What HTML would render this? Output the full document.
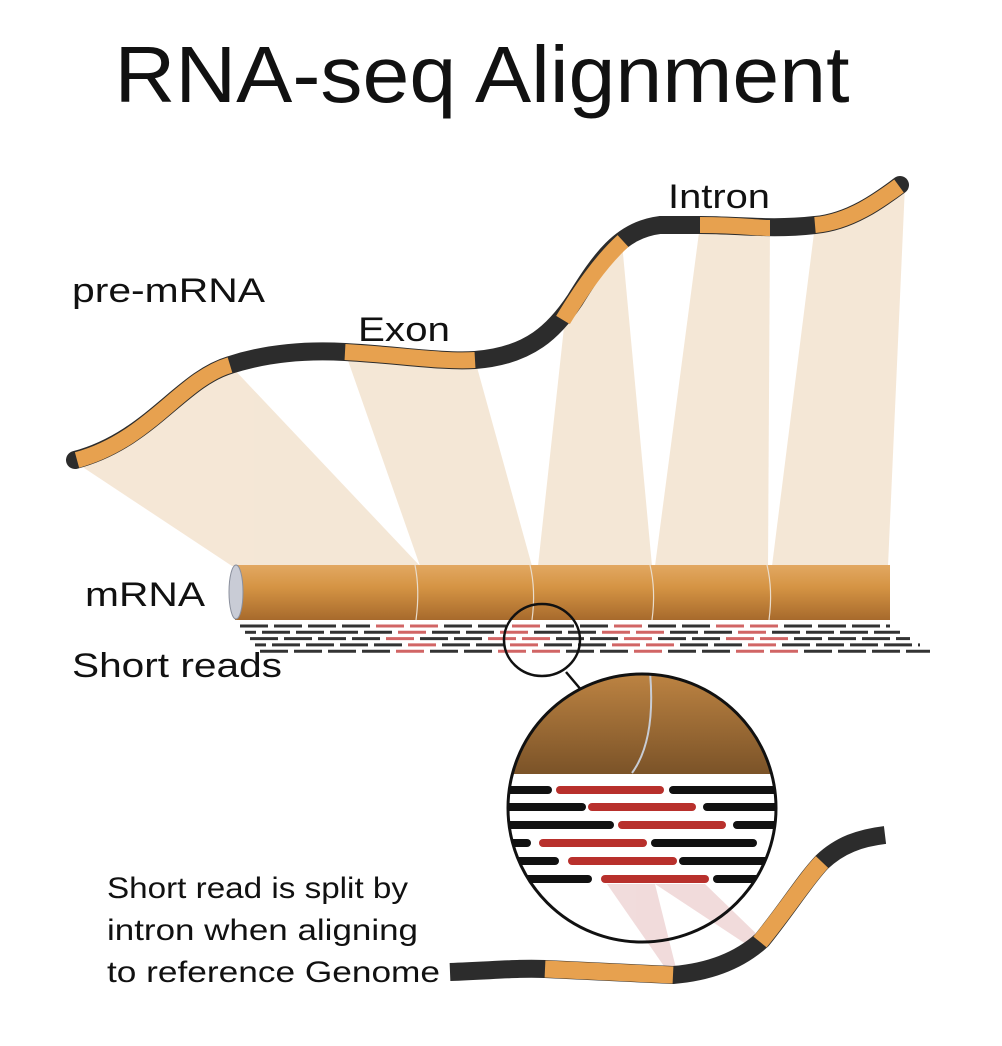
<!DOCTYPE html>
<html><head><meta charset="utf-8"><style>
html,body{margin:0;padding:0;background:#fff;}
svg{display:block;}
text{font-family:"Liberation Sans",sans-serif;fill:#111;}
</style></head><body>
<svg id="s" width="1002" height="1046" viewBox="0 0 1002 1046" xmlns="http://www.w3.org/2000/svg">
<defs>
<linearGradient id="cyl" x1="0" y1="0" x2="0" y2="1">
<stop offset="0" stop-color="#e2a862"/><stop offset="0.4" stop-color="#d59444"/><stop offset="1" stop-color="#a76a2c"/>
</linearGradient>
<linearGradient id="mag" x1="0" y1="0" x2="0" y2="1">
<stop offset="0" stop-color="#bf8543"/><stop offset="1" stop-color="#7b5328"/>
</linearGradient>
<clipPath id="cc"><circle cx="642" cy="808" r="134"/></clipPath>
</defs>
<text x="482" y="102" font-size="80" text-anchor="middle" textLength="735" lengthAdjust="spacingAndGlyphs">RNA-seq Alignment</text>

<g fill="#f3e3cf" opacity="0.85">
<polygon points="75,462 230,365 420,566 232,566"/>
<polygon points="345,352 475,360 532,566 420,566"/>
<polygon points="565,318 622,243 652,566 538,566"/>
<polygon points="700,225 770,227 768,566 655,566"/>
<polygon points="815,225 905,185 888,566 772,566"/>
</g>

<path d="M75,460 C150,440 180,380 230,365 C270,352 310,350 345,352 C400,355 440,362 475,360 C530,356 555,330 575,300 C600,260 620,230 660,225 L700,225 C740,225 770,230 815,225 C850,222 880,200 900,185" fill="none" stroke="#2c2c2c" stroke-width="18" stroke-linecap="round"/>
<g fill="none" stroke="#e7a14f" stroke-width="16" stroke-linecap="butt">
<path d="M77,460 C150,440 180,380 230,365"/>
<path d="M345,352 C400,355 440,362 475,360"/>
<path d="M563,320 C580,292 600,262 623,241"/>
<path d="M700,225 C740,225 755,228 770,228"/>
<path d="M815,225 C850,222 880,200 899,186"/>
</g>
<text x="72" y="302" font-size="34" textLength="193" lengthAdjust="spacingAndGlyphs">pre-mRNA</text>
<text x="358" y="341" font-size="34" textLength="92" lengthAdjust="spacingAndGlyphs">Exon</text>
<text x="668" y="208" font-size="34" textLength="102" lengthAdjust="spacingAndGlyphs">Intron</text>

<rect x="235" y="565" width="655" height="55" fill="url(#cyl)"/>
<ellipse cx="236" cy="592" rx="7" ry="27" fill="#c9ccd6" stroke="#8a8f9c" stroke-width="1"/>
<g stroke="#e9dccb" stroke-width="1.2" fill="none">
<path d="M415,565 Q420,590 416,620"/><path d="M530,565 Q536,590 532,620"/><path d="M650,565 Q656,590 652,620"/><path d="M767,565 Q773,590 769,620"/>
</g>
<text x="85" y="606" font-size="34" textLength="120" lengthAdjust="spacingAndGlyphs">mRNA</text>
<g id="reads"></g>
<text x="72" y="677" font-size="34" textLength="210" lengthAdjust="spacingAndGlyphs">Short reads</text>

<ellipse cx="542" cy="640" rx="38" ry="36" fill="none" stroke="#111" stroke-width="2.5"/>
<line x1="566" y1="672" x2="588" y2="698" stroke="#111" stroke-width="2.5"/>

<g clip-path="url(#cc)">
<rect x="500" y="670" width="290" height="104" fill="url(#mag)"/>
<path d="M650,672 Q656,740 632,773" fill="none" stroke="#c8ccd4" stroke-width="2"/>
<g stroke-width="8" stroke-linecap="round">
<g stroke="#111">
<line x1="500" y1="790" x2="548" y2="790"/><line x1="673" y1="790" x2="790" y2="790"/>
<line x1="500" y1="807" x2="582" y2="807"/><line x1="707" y1="807" x2="790" y2="807"/>
<line x1="500" y1="825" x2="610" y2="825"/><line x1="737" y1="825" x2="790" y2="825"/>
<line x1="500" y1="843" x2="527" y2="843"/><line x1="655" y1="843" x2="753" y2="843"/>
<line x1="500" y1="861" x2="555" y2="861"/><line x1="683" y1="861" x2="790" y2="861"/>
<line x1="500" y1="879" x2="588" y2="879"/><line x1="717" y1="879" x2="768" y2="879"/>
</g>
<g stroke="#b8302c">
<line x1="560" y1="790" x2="660" y2="790"/>
<line x1="592" y1="807" x2="692" y2="807"/>
<line x1="622" y1="825" x2="722" y2="825"/>
<line x1="543" y1="843" x2="643" y2="843"/>
<line x1="572" y1="861" x2="673" y2="861"/>
<line x1="605" y1="879" x2="705" y2="879"/>
</g>
</g>
</g>
<g fill="#e8c4c4" opacity="0.6">
<polygon points="607,884 655,884 677,972 668,972"/>
<polygon points="655,884 705,884 768,945 755,950"/>
</g>
<circle cx="642" cy="808" r="134" fill="none" stroke="#111" stroke-width="3"/>

<path d="M450,972 C500,970 520,968 545,969 L673,975 C710,972 740,960 762,940 C790,905 805,880 822,862 C840,845 860,838 885,835" fill="none" stroke="#2c2c2c" stroke-width="18"/>
<g fill="none" stroke="#e7a14f" stroke-width="17">
<path d="M545,969 L673,975"/>
<path d="M760,942 C790,905 805,880 822,862"/>
</g>

<text x="107" y="898" font-size="30" textLength="301" lengthAdjust="spacingAndGlyphs">Short read is split by</text>
<text x="107" y="940" font-size="30" textLength="311" lengthAdjust="spacingAndGlyphs">intron when aligning</text>
<text x="107" y="982" font-size="30" textLength="333" lengthAdjust="spacingAndGlyphs">to reference Genome</text>
</svg>
<script>
(function(){
var g=document.getElementById('reads'),h='';
var reds=[400,515,625,745];
for(var r=0;r<5;r++){
 var y=626+r*6.3, x0=240+r*5, x1=890+r*10, off=(r%2)*17;
 for(var x=x0-off;x<x1;x+=34){
  var a=Math.max(x,x0),b=Math.min(x+28,x1);if(b<=a)continue;
  var red=false;for(var i=0;i<reds.length;i++){var c=reds[i]+r*4;if(a+14>c-22&&a+14<c+26)red=true;}
  h+='<line x1="'+a+'" y1="'+y+'" x2="'+b+'" y2="'+y+'" stroke="'+(red?'#d16565':'#333')+'" stroke-width="3"/>';
 }
}
g.innerHTML=h;
})();
</script>
</body></html>
